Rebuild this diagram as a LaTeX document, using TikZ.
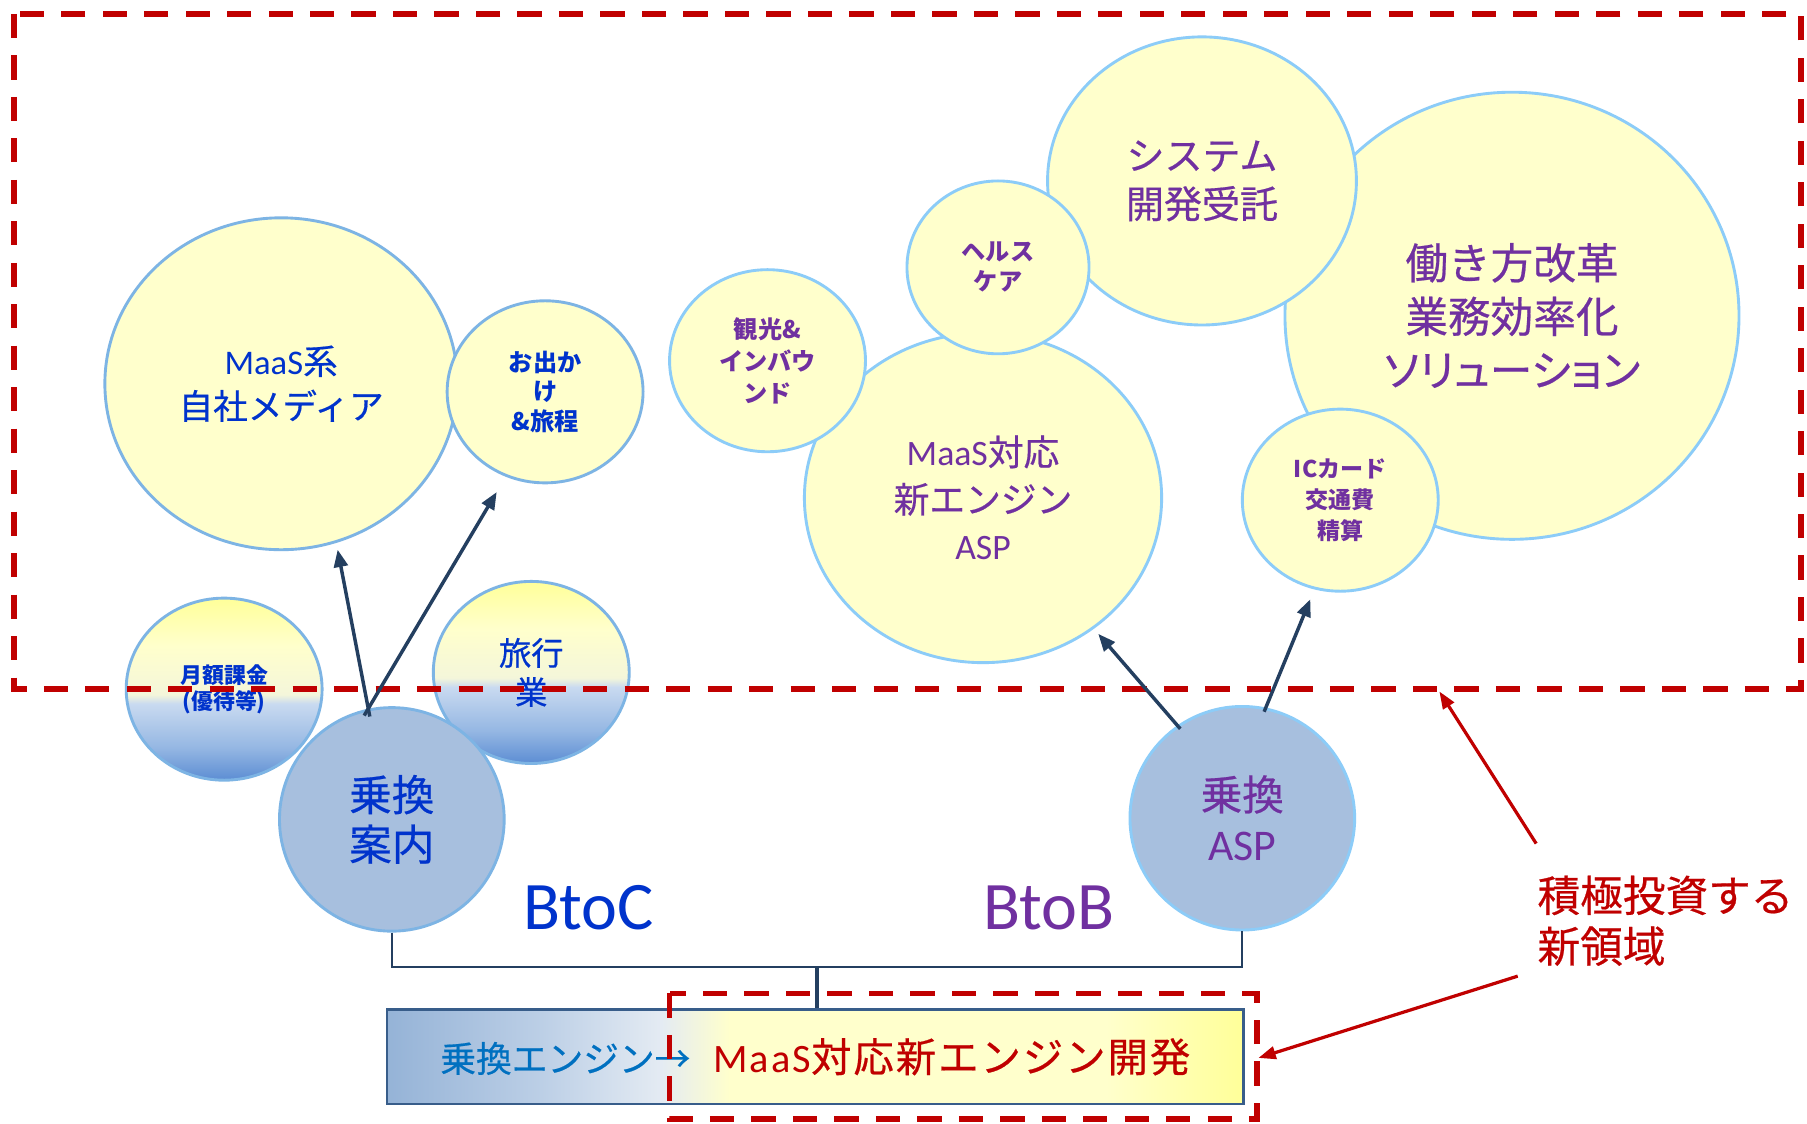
\documentclass[tikz,border=0pt]{standalone}
\usepackage{fontspec}
\setmainfont{Noto Sans CJK JP}[UprightFeatures={FakeBold=0.5}]
\newfontfamily\lat{Carlito}
\usetikzlibrary{shapes.geometric,arrows.meta}
\definecolor{rdash}{HTML}{C00000}
\definecolor{tblue}{HTML}{0033CC}
\definecolor{tblue2}{HTML}{0070C0}
\definecolor{tpurple}{HTML}{7030A0}
\definecolor{tred}{HTML}{C00000}
\definecolor{navy}{HTML}{243F60}
\definecolor{fillY}{HTML}{FFFFCC}
\definecolor{lbL}{HTML}{7DB4E4}
\definecolor{lbR}{HTML}{8CCCF8}
\definecolor{jfill}{HTML}{A7BFDE}
\definecolor{boxb}{HTML}{385D8A}
\definecolor{gy1}{HTML}{FFFF99}
\definecolor{gy2}{HTML}{FFFFCC}
\definecolor{gy3}{HTML}{F4F6DA}
\definecolor{gb1}{HTML}{C9DAF0}
\definecolor{gb2}{HTML}{95B7E3}
\definecolor{gb3}{HTML}{5C8DD3}
\definecolor{eb1}{HTML}{95B3D7}
\definecolor{eb2}{HTML}{BCCFE6}
\definecolor{eb3}{HTML}{E4EBF3}
\definecolor{ey2}{HTML}{FFFFCC}
\definecolor{ey1}{HTML}{FFFF99}
\pgfdeclareverticalshading{ballshade}{100bp}{color(0bp)=(gb3); color(25bp)=(gb3); color(34bp)=(gb2); color(46bp)=(gb1); color(48.5bp)=(gy3); color(62bp)=(gy2); color(75bp)=(gy1); color(100bp)=(gy1)}
\pgfdeclarehorizontalshading{engshade}{100bp}{color(0bp)=(eb1); color(25bp)=(eb1); color(34bp)=(eb2); color(41bp)=(eb3); color(45bp)=(ey2); color(67bp)=(ey2); color(75bp)=(ey1); color(100bp)=(ey1)}
\newcommand\myfs[2]{\fontsize{#1pt}{#2pt}\selectfont}
\newcommand\palt{\addfontfeature{RawFeature=+palt}}
\begin{document}
\begin{tikzpicture}[x=1pt,y=-1pt,
  bubL/.style={ellipse, draw=lbL, line width=2.5pt, fill=fillY, inner sep=0pt, align=center, text=tblue},
  bubR/.style={ellipse, draw=lbR, line width=2.5pt, fill=fillY, inner sep=0pt, align=center, text=tpurple},
  ball/.style={ellipse, draw=lbL, line width=2.5pt, shade, shading=ballshade, inner sep=0pt, align=center, text=tblue},
  jball/.style={ellipse, line width=2.5pt, fill=jfill, inner sep=0pt, align=center, minimum width=195pt, minimum height=194pt},
  sz/.style n args={2}{minimum width=#1pt, minimum height=#2pt},
  rdashed/.style={draw=rdash, line width=5pt, dash pattern=on 21pt off 15pt},
  navyarrow/.style={draw=navy, line width=3pt, -{Triangle[length=15pt,width=12pt]}},
  redarrow/.style={draw=rdash, line width=2.8pt, -{Triangle[length=15pt,width=11pt]}},
  conn/.style={draw=navy, line width=2pt}
]
\fill[white] (0,0) rectangle (1568,975);
\useasboundingbox (0,0) rectangle (1568,975);

% upper bubbles
\node[bubL, sz={306}{288}, font=\myfs{30}{39}] (maas) at (244,333) {{\lat MaaS}系\\自社メディア};
\node[bubL, sz={170}{158}, font=\bfseries\myfs{21}{25.5}] (odekake) at (473,340) {お出か\\け\\\&旅程};
\node[bubR, sz={394}{388}, font=\myfs{37}{46.5}] (hataraki) at (1312,274) {働き方改革\\業務効率化\\{\palt ソリューション}};
\node[bubR, sz={268}{250}, font=\myfs{33}{42}] (system) at (1043,157) {システム\\開発受託};
\node[bubR, sz={310}{286}, font=\myfs{31}{41}] (maastaio) at (853,432) {{\lat MaaS}対応\\新エンジン\\{\lat ASP}};
\node[bubR, sz={158}{150}, font=\bfseries\myfs{21}{26}] (health) at (866,232) {ヘルス\\ケア};
\node[bubR, sz={170}{158}, font=\bfseries\myfs{21}{28}] (kanko) at (666,313) {観光\&\\インバウ\\ンド};
\node[bubR, sz={170}{158}, font=\bfseries\myfs{20}{27}] (ic) at (1163,434) {IC{カード}\\交通費\\精算};

% lower balls
\node[ball, sz={170}{158}, font=\bfseries\myfs{19}{23}] (getsu) at (194.5,598) {月額課金\\(優待等)};
\node[ball, sz={170}{158}, font=\myfs{28}{34}] (ryoko) at (461,583.5) {旅行\\業};
\node[jball, draw=lbL, text=tblue, font=\myfs{37}{43}] (kannai) at (340,711) {乗換\\案内};
\node[jball, draw=lbR, text=tpurple, font=\myfs{36}{44}] (asp) at (1078,710) {乗換\\{\lat\myfs{38}{44}ASP}};

% new area frame
\draw[rdashed] (12,12) rectangle (1563,598);

% labels
\node[text=tblue, font=\lat\myfs{59}{70}, inner sep=0pt] (btoc) at (510.5,788) {BtoC};
\node[text=tpurple, font=\lat\myfs{59}{70}, inner sep=0pt] (btob) at (910,788) {BtoB};
\node[text=tred, font=\myfs{37}{44}, align=left, anchor=west, inner sep=0pt] (note) at (1334,799) {積極投資する\\新領域};

% engine box
\node[draw=boxb, line width=2pt, shade, shading=engshade, minimum width=743pt, minimum height=82pt, inner sep=0pt, font=\myfs{31}{36}] (engine) at (707.5,917)
  {{\color{tblue2}乗換エンジン→}\hspace{20pt}{\color{tred}\myfs{35}{38}{\lat\addfontfeature{LetterSpace=5}MaaS}\addfontfeature{LetterSpace=5}対応新エンジン開発}};
\draw[rdashed] (581,862) rectangle (1091,971);

% connectors
\coordinate (junc) at (709,839);
\draw[conn] (kannai.south) |- (junc) -| (asp.south);
\draw[conn, line width=3pt] (engine.north -| junc) -- (junc);

% arrows
\coordinate (tA) at (293,477);
\coordinate (tB) at (431,427);
\coordinate (tC) at (953,550);
\coordinate (tD) at (1137,520);
\draw[navyarrow, shorten <=-7pt] (kannai.102) -- (tA);
\draw[navyarrow, shorten <=-7pt] (kannai.102) -- (tB);
\draw[navyarrow, shorten <=-4pt] (asp.125) -- (tC);
\draw[navyarrow, shorten <=-4pt] (asp.78) -- (tD);

\coordinate (rs1) at (1333,732);
\coordinate (rt1) at (1249,600);
\coordinate (rs2) at (1317,847);
\coordinate (rt2) at (1092,918);
\draw[redarrow] (rs1) -- (rt1);
\draw[redarrow] (rs2) -- (rt2);
\end{tikzpicture}
\end{document}
